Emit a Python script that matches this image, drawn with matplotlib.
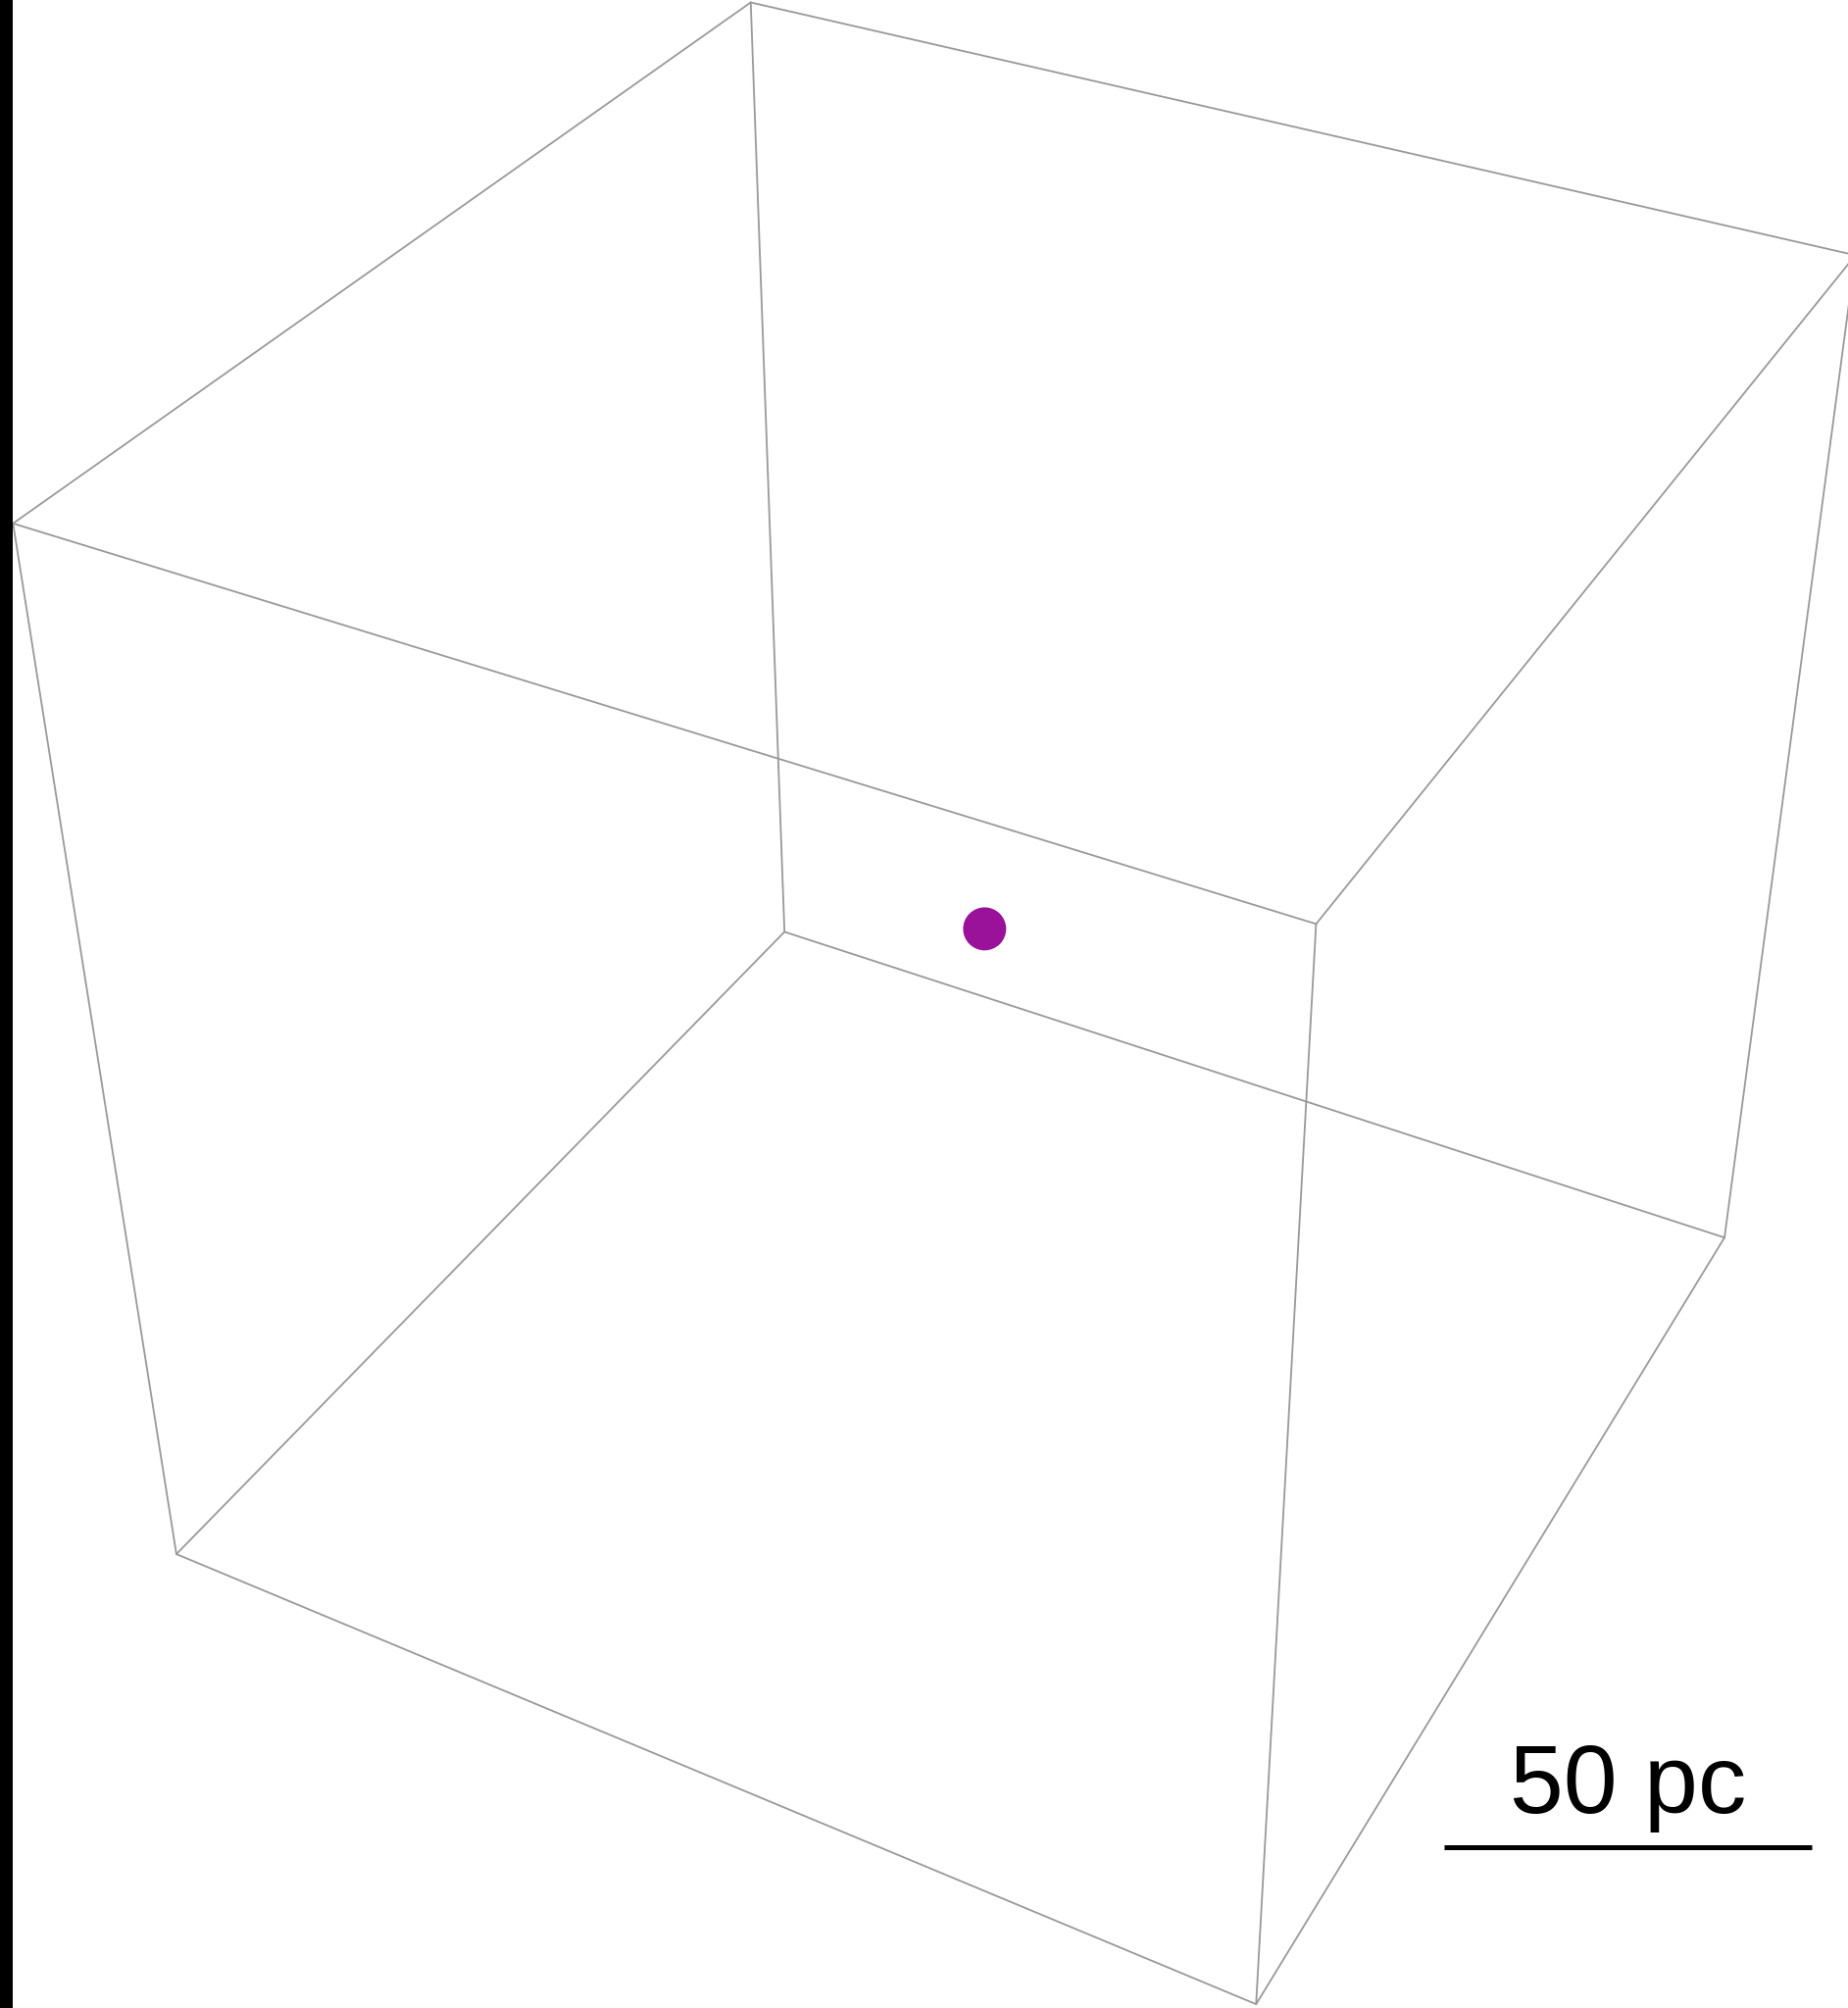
import matplotlib.pyplot as plt
import numpy as np
from matplotlib.patches import Rectangle

W, H = 1885, 2048  # output size in pixels
px = 1 / 100  # inches per pixel at dpi=100

# simulation box and the single cluster inside it (pc)
box_half = 84.0
cluster_pos = np.array([[0.0, 0.0, 0.0]])
scale_bar_pc = 50.0
scale_bar_label = "50 pc"

# camera: viewing angles (deg), offset of box centre in camera frame (pc), lens (px)
elev, azim, roll = 36.0, -61.98, -0.15
cam_offset = np.array([-3.40, 2.35, 571.96])
focal = 4300.9
principal = (1029.9, 929.7)


def camera_rotation(elev: float, azim: float, roll: float) -> np.ndarray:
    e, a, r = np.radians([elev, azim, roll])
    fwd = -np.array([np.cos(e) * np.cos(a), np.cos(e) * np.sin(a), np.sin(e)])
    right0 = np.cross(fwd, [0.0, 0.0, 1.0])
    right0 /= np.linalg.norm(right0)
    down0 = np.cross(fwd, right0)
    right = np.cos(r) * right0 + np.sin(r) * down0
    down = np.cross(fwd, right)
    return np.stack([right, down, fwd])  # rows: image x, image y (down), depth


ROT = camera_rotation(elev, azim, roll)


def project(points: np.ndarray) -> np.ndarray:
    cam = points @ ROT.T + cam_offset
    u = principal[0] + focal * cam[:, 0] / cam[:, 2]
    v = principal[1] + focal * cam[:, 1] / cam[:, 2]
    return np.stack([u, v], axis=1)


def box_corners(half: float) -> np.ndarray:
    s = np.array([-1.0, 1.0])
    gx, gy, gz = np.meshgrid(s, s, s, indexing="ij")
    return half * np.stack([gx.ravel(), gy.ravel(), gz.ravel()], axis=1)


fig = plt.figure(figsize=(W * px, H * px), dpi=100)
ax = fig.add_axes([0, 0, 1, 1])
ax.set_xlim(0, W)
ax.set_ylim(H, 0)
ax.axis("off")

corners = box_corners(box_half)
pts = project(corners)
for i in range(8):
    for j in range(i + 1, 8):
        # edges join corners that differ along one axis only
        if np.sum(corners[i] != corners[j]) == 1:
            ax.plot(pts[[i, j], 0], pts[[i, j], 1], color="#999999", lw=1.3,
                    solid_capstyle="round")

c = project(cluster_pos)
ax.scatter(c[:, 0], c[:, 1], s=1000, color="#9a129a", edgecolors="none", zorder=3)

# scale bar, sized at the depth of the box centre
bar_len = focal * scale_bar_pc / cam_offset[2]
bar_x, bar_y = 1660.5, 1884
ax.plot([bar_x - bar_len / 2, bar_x + bar_len / 2], [bar_y, bar_y], color="black",
        lw=3.6, solid_capstyle="butt")
ax.text(bar_x, 1849, scale_bar_label, ha="center", va="baseline", fontsize=71,
        family=["Liberation Sans", "DejaVu Sans"], color="black")

# dark strip down the left edge
fig.patches.append(Rectangle((0, 0), 13 / W, 1, transform=fig.transFigure,
                             facecolor="black", edgecolor="none", zorder=5))

fig.savefig("out.png", dpi=100)
